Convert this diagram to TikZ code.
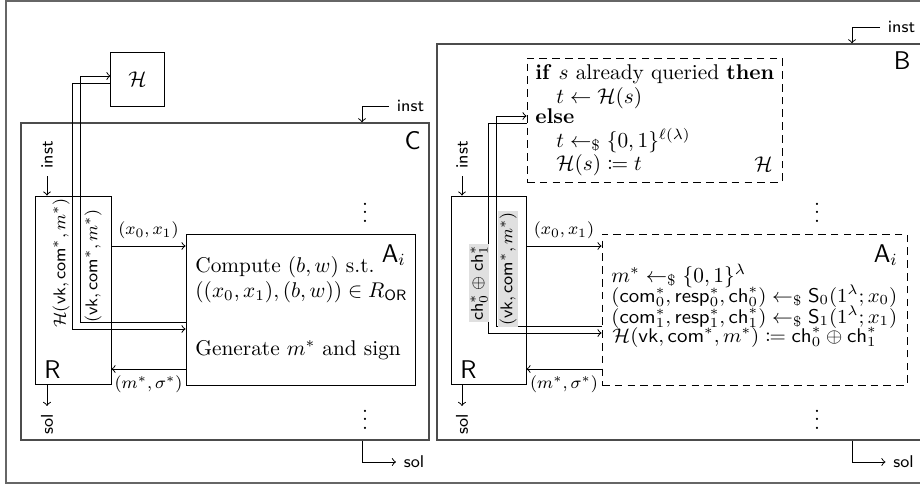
\documentclass[tikz,border=0pt]{standalone}
\usepackage{amsmath,amssymb,mathtools,graphicx}
\usetikzlibrary{fit}
\begin{document}
\begin{tikzpicture}[x=0.469pt,y=-0.469pt,
  outerframe/.style={draw=black!60, line width=1pt, inner sep=0pt},
  panel/.style={draw=black!70, line width=0.6pt, inner sep=0pt},
  plainbox/.style={draw, line width=0.45pt, inner sep=0pt},
  dbox/.style={draw, line width=0.45pt, inner sep=0pt, dash pattern=on 3.6pt off 2.4pt},
  conn/.style={line width=0.45pt},
  lbl/.style={font=\fontsize{8.3}{10}\selectfont, inner sep=1pt},
  slbl/.style={font=\sffamily\footnotesize, inner xsep=3.5pt, inner ysep=1pt},
  txt/.style={inner sep=0pt, anchor=base west},
  big/.style={inner sep=0pt, font=\sffamily\large},
  shade/.style={fill=black!12, inner sep=0.6pt}
]
\useasboundingbox (0,0) rectangle (920,487);
\clip (0,0) rectangle (920,487);
\node[outerframe, fit={(6,1) (980,483)}] (frame) {};

% ================= Panel C =================
\node[panel, fit={(21,123) (429,440)}] (C) {};
\node[big, anchor=base east] (Clbl) at (421,149) {C};
\node[plainbox, minimum width=24.9pt, minimum height=24.9pt] (HC) at (137.5,79.5) {$\mathcal{H}$};
\node[plainbox, fit={(35,196) (111,384)}] (RC) {};
\node[big, anchor=base west] (RClbl) at (44,378) {R};
\node[plainbox, fit={(186,234) (415,385)}] (AC) {};
\node[big, anchor=base east] (AClbl) at (406,262) {$\mathsf{A}_i$};
\node[txt] (c1) at (195,272) {Compute $(b,w)$ s.t.};
\node[txt] (c2) at (195,297) {$((x_0,x_1),(b,w)) \in R_{\mathsf{OR}}$};
\node[txt] (c3) at (195,355) {Generate $m^*$ and sign};
\node (dC1) at (365,206) {$\vdots$};
\node (dC2) at (365,413) {$\vdots$};

\node[slbl] (instC) at (410.5,106) {inst};
\draw[conn,->] (instC.west) -- (362,106) -- (C.north -| 362,0);
\node[slbl] (solC) at (414,462) {sol};
\draw[conn,->] (C.south -| 362,0) -- (362,462) -- (solC.west);

\node[slbl, rotate=90] (instRC) at (47,155) {inst};
\draw[conn,->] (instRC.west) -- (instRC.west |- RC.north);
\node[slbl, rotate=90] (solRC) at (47,424) {sol};
\draw[conn,->] (RC.south -| solRC.east) -- (solRC.east);

\draw[conn,->] (RC.east |- 0,246) -- (AC.west |- 0,246) node[lbl, midway, above=2pt] {$(x_0,x_1)$};
\draw[conn,->] (AC.west |- 0,322) -- (80,322) -- (80,76) -- (HC.west |- 0,76);
\draw[conn,->] (HC.west |- 0,83) -- (72,83) -- (72,329) -- (AC.west |- 0,329);
\draw[conn,->] (AC.west |- 0,369) -- (RC.east |- 0,369) node[lbl, midway, below=2pt] {$(m^*,\sigma^*)$};
\node[lbl, rotate=90] (qC) at (93,266) {$(\mathsf{vk},\mathsf{com}^*,m^*)$};
\node[lbl, rotate=90] (aC) at (61,263) {$\mathcal{H}(\mathsf{vk},\mathsf{com}^*,m^*)$};

% ================= Panel B =================
\node[panel, fit={(437,44) (980,440)}] (B) {};
\node[big, anchor=base east] (Blbl) at (911,69) {B};
\node[dbox, fit={(527,58) (782,182)}] (HB) {};
\node[txt] (h1) at (535,79) {\textbf{if} $s$ already queried \textbf{then}};
\node[txt] (h2) at (556,103) {$t \leftarrow \mathcal{H}(s)$};
\node[txt] (h3) at (535,123) {\textbf{else}};
\node[txt] (h4) at (556,147) {$t \leftarrow_{\$} \{0,1\}^{\ell(\lambda)}$};
\node[txt] (h5) at (556,170) {$\mathcal{H}(s) \coloneqq t$};
\node[inner sep=0pt, anchor=base east] (HBlbl) at (773,171) {$\mathcal{H}$};
\node[plainbox, fit={(451,196) (526,384)}] (RB) {};
\node[big, anchor=base west] (RBlbl) at (460,378) {R};
\node[dbox, fit={(602,234) (907,385)}] (AB) {};
\node[big, anchor=base east] (ABlbl) at (898,262) {$\mathsf{A}_i$};
\node[txt] (a1) at (611,282) {$m^* \leftarrow_{\$} \{0,1\}^{\lambda}$};
\node[txt] (a2) at (611,302) {\resizebox{134pt}{0.93\height}{$(\mathsf{com}_0^*,\mathsf{resp}_0^*,\mathsf{ch}_0^*) \leftarrow_{\$} \mathsf{S}_0(1^{\lambda};x_0)$}};
\node[txt] (a3) at (611,323) {\resizebox{134pt}{0.93\height}{$(\mathsf{com}_1^*,\mathsf{resp}_1^*,\mathsf{ch}_1^*) \leftarrow_{\$} \mathsf{S}_1(1^{\lambda};x_1)$}};
\node[txt] (a4) at (612,342) {\resizebox{124pt}{0.93\height}{$\mathcal{H}(\mathsf{vk},\mathsf{com}^*,m^*) \coloneqq \mathsf{ch}_0^* \oplus \mathsf{ch}_1^*$}};
\node (dB1) at (817,206) {$\vdots$};
\node (dB2) at (817,413) {$\vdots$};

\node[slbl] (instB) at (901.5,27) {inst};
\draw[conn,->] (instB.west) -- (852,27) -- (B.north -| 852,0);
\node[slbl] (solB) at (903.5,462) {sol};
\draw[conn,->] (B.south -| 852,0) -- (852,462) -- (solB.west);

\node[slbl, rotate=90] (instRB) at (462,155) {inst};
\draw[conn,->] (instRB.west) -- (instRB.west |- RB.north);
\node[slbl, rotate=90] (solRB) at (462,424) {sol};
\draw[conn,->] (RB.south -| solRB.east) -- (solRB.east);

\draw[conn,->] (RB.east |- 0,246) -- (AB.west |- 0,246) node[lbl, midway, above=2pt] {$(x_0,x_1)$};
\draw[conn,->] (AB.west |- 0,326) -- (496,326) -- (496,116) -- (HB.west |- 0,116);
\draw[conn,->] (HB.west |- 0,123) -- (488,123) -- (488,333) -- (AB.west |- 0,333);
\draw[conn,->] (AB.west |- 0,369) -- (RB.east |- 0,369) node[lbl, midway, below=2pt] {$(m^*,\sigma^*)$};
\node[lbl, shade, rotate=90] (qB) at (508,269) {$(\mathsf{vk},\mathsf{com}^*,m^*)$};
\node[lbl, shade, rotate=90] (aB) at (479,283) {$\mathsf{ch}_0^*\oplus\mathsf{ch}_1^*$};
\end{tikzpicture}
\end{document}
